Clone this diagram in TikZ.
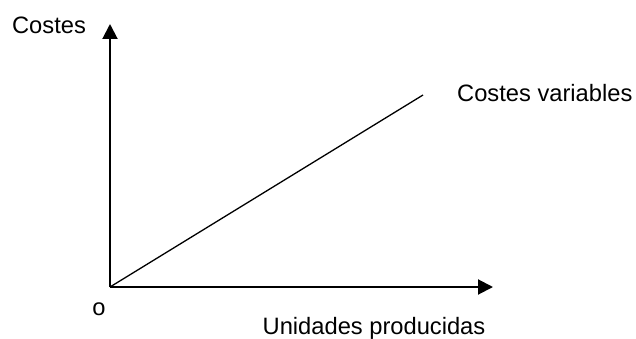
\documentclass[tikz,border=0pt]{standalone}
\usepackage{fontspec}
\setmainfont{Liberation Sans}
\usepackage{tikz}
\usetikzlibrary{
        arrows.meta,
        positioning
    }
\tikzset{axis/.style={line width=2pt,-{Triangle[length=15pt,width=15pt]}}}
\tikzset{lbl/.style={inner sep=0pt,font=\fontsize{23.7}{28}\selectfont}}

\begin{document}
\begin{tikzpicture}[x=1pt,y=1pt]
                \useasboundingbox (0,0) rectangle (636,338);
                \coordinate (o) at (110,51);
                \coordinate (ytip) at (110,314);
                \coordinate (xtip) at (493,51);
                \coordinate (cv) at (423,243);
                \draw[axis] (o) -- (ytip);
                \draw[axis] (o) -- (xtip);
                \draw[line width=1.3pt] (o) -- (cv);
                \node[lbl] (costes) at (49,313) {Costes};
                \node[lbl,anchor=west] (variables) at (457,245) {Costes variables};
                \node[lbl] (origen) at (99,29) {o};
                \node[lbl] (unidades) at (374,10) {Unidades producidas};
            \end{tikzpicture}
\end{document}
